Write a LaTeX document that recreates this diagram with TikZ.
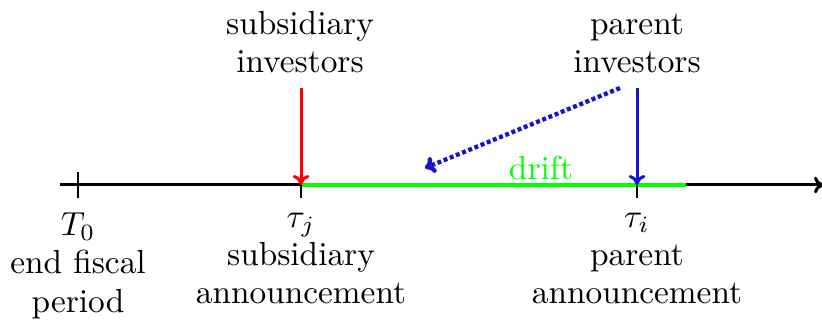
\documentclass[tikz,border=0pt]{standalone}
\usetikzlibrary{arrows.meta}
\begin{document}
\begin{tikzpicture}[x=0.3pt,y=-0.3pt,
  lbl/.style={align=center,inner sep=0pt,font=\fontsize{10}{11.5}\selectfont},
  axisline/.style={line width=0.9pt},
  tickline/.style={line width=0.6pt},
  invarrow/.style={line width=0.9pt,-{To[length=3pt,width=5pt]}},
  dotarrow/.style={line width=1.3pt,dash pattern=on 1.2pt off 0.8pt,pblue,-{To[length=3pt,width=5pt]}}]
\definecolor{pblue}{RGB}{20,20,210}
\useasboundingbox (0,0) rectangle (822,320);
% axis coordinates
\coordinate (a0) at (60,185);
\coordinate (a1) at (824,185);
\coordinate (t0) at (78,185);
\coordinate (tj) at (301,185);
\coordinate (ti) at (637,185);
\coordinate (g1) at (686,185);
% axis
\draw[axisline,-{To[length=3pt,width=5pt]}] (a0) -- (a1);
\draw[green,line width=1.3pt] (tj) -- (g1);
\foreach \p in {t0,tj,ti}{
  \draw[tickline] ([yshift=3.9pt]\p) -- ([yshift=-3.9pt]\p);
}
% top labels
\node[lbl,anchor=south] (subinv) at (300,74) {subsidiary\\investors};
\node[lbl,anchor=south] (parinv) at (637,74) {parent\\investors};
\coordinate (rs) at (301,88);
\coordinate (bs) at (637,88);
\coordinate (ds) at (620,88);
\coordinate (de) at (425,168);
\draw[invarrow,red] (rs) -- (tj);
\draw[invarrow,pblue] (bs) -- (ti);
\draw[dotarrow] (ds) -- (de);
\node[lbl,anchor=base,text=green] (drift) at (541,180) {drift};
% bottom labels
\node[lbl,anchor=north] (l0) at (78,212) {$T_0$\\end fiscal\\period};
\node[lbl,anchor=north] (lj) at (301,212) {$\tau_j$\\subsidiary\\announcement};
\node[lbl,anchor=north] (li) at (637,212) {$\tau_i$\\parent\\announcement};
\end{tikzpicture}
\end{document}
